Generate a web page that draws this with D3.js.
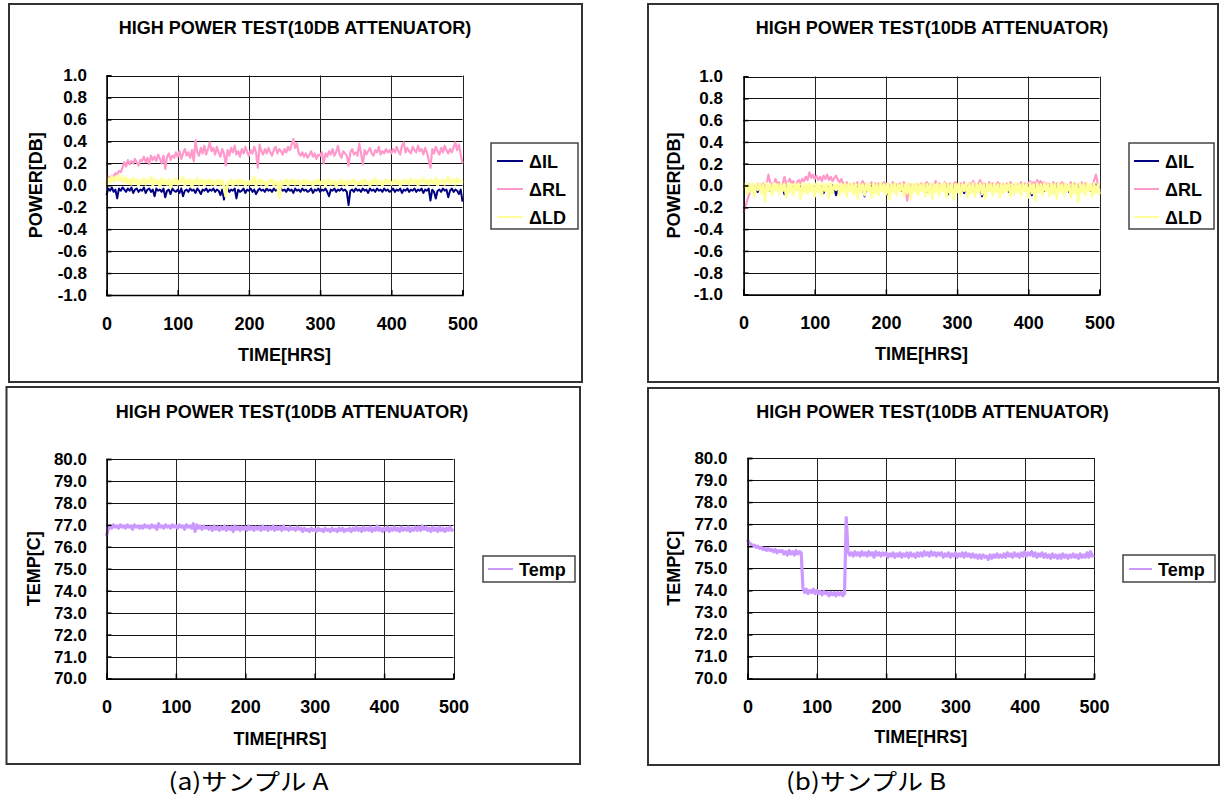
<!DOCTYPE html>
<html><head><meta charset="utf-8">
<script src="https://cdn.jsdelivr.net/npm/d3@7"></script>
<style>
body{margin:0;background:#fff}
svg{display:block}
text{font-family:"Liberation Sans",Arial,sans-serif;font-weight:bold;fill:#000}
</style>
</head><body>
<svg id="c" width="1223" height="800"></svg>
<script>
// ---------- texts / categories ----------
const chartTitle = "HIGH POWER TEST(10DB ATTENUATOR)";
const xAxisTitle = "TIME[HRS]";
const powerAxisTitle = "POWER[DB]";
const tempAxisTitle = "TEMP[C]";
const powerSeriesNames = ["\u0394IL", "\u0394RL", "\u0394LD"];
const tempSeriesName = "Temp";
const captions = ["(a)\u30b5\u30f3\u30d7\u30eb A", "(b)\u30b5\u30f3\u30d7\u30eb B"];
const timeTicks = [0, 100, 200, 300, 400, 500];
const powerTicks = [1.0, 0.8, 0.6, 0.4, 0.2, 0.0, -0.2, -0.4, -0.6, -0.8, -1.0];
const tempTicks = [80, 79, 78, 77, 76, 75, 74, 73, 72, 71, 70];
const sampleStepHrs = 2.5; // one reading every 2.5 h, 0..500 h

// ---------- sample A : power deltas [dB] ----------
const ilA = [
-0.09,-0.03,-0.05,-0.02,-0.06,-0.04,-0.12,-0.03,-0.05,-0.02,-0.04,-0.06,-0.03,-0.05,-0.02,-0.07,-0.04,-0.03,-0.06,-0.04,
-0.05,-0.02,-0.07,-0.04,-0.03,-0.06,-0.04,-0.10,-0.03,-0.05,-0.04,-0.06,-0.03,-0.11,-0.05,-0.04,-0.08,-0.03,-0.05,-0.06,
-0.04,-0.07,-0.03,-0.10,-0.05,-0.04,-0.06,-0.03,-0.05,-0.04,-0.07,-0.03,-0.05,-0.08,-0.04,-0.05,-0.03,-0.06,-0.04,-0.05,
-0.03,-0.06,-0.04,-0.05,-0.09,-0.04,-0.13,-0.05,-0.03,-0.06,-0.04,-0.05,-0.03,-0.12,-0.04,-0.06,-0.05,-0.03,-0.07,-0.04,
-0.05,-0.03,-0.06,-0.04,-0.08,-0.05,-0.03,-0.05,-0.04,-0.06,-0.03,-0.05,-0.04,-0.06,-0.03,-0.05,-0.04,-0.07,-0.03,-0.05,
-0.04,-0.06,-0.03,-0.05,-0.04,-0.07,-0.03,-0.05,-0.04,-0.06,-0.03,-0.05,-0.04,-0.06,-0.05,-0.03,-0.07,-0.04,-0.05,-0.03,
-0.06,-0.04,-0.05,-0.03,-0.06,-0.10,-0.04,-0.05,-0.03,-0.06,-0.04,-0.05,-0.03,-0.05,-0.04,-0.06,-0.18,-0.05,-0.04,-0.06,
-0.03,-0.05,-0.04,-0.06,-0.03,-0.05,-0.04,-0.07,-0.03,-0.05,-0.04,-0.06,-0.03,-0.05,-0.04,-0.06,-0.03,-0.05,-0.04,-0.06,
-0.05,-0.03,-0.06,-0.04,-0.05,-0.03,-0.07,-0.04,-0.05,-0.03,-0.06,-0.04,-0.05,-0.03,-0.06,-0.04,-0.05,-0.03,-0.07,-0.04,
-0.05,-0.03,-0.14,-0.04,-0.06,-0.12,-0.05,-0.04,-0.06,-0.03,-0.05,-0.04,-0.11,-0.05,-0.03,-0.06,-0.04,-0.05,-0.08,-0.04,
-0.15];
const rlA = [
0.02,0.08,0.06,0.09,0.08,0.11,0.10,0.13,0.12,0.16,0.21,0.17,0.23,0.19,0.22,0.20,0.24,0.21,0.18,0.23,
0.22,0.26,0.21,0.25,0.19,0.27,0.23,0.26,0.22,0.28,0.24,0.20,0.27,0.15,0.26,0.29,0.23,0.27,0.25,0.30,
0.26,0.31,0.24,0.29,0.33,0.27,0.30,0.25,0.32,0.22,0.41,0.30,0.27,0.34,0.29,0.36,0.28,0.33,0.39,0.31,
0.34,0.28,0.35,0.30,0.26,0.33,0.29,0.18,0.32,0.27,0.34,0.30,0.36,0.28,0.31,0.26,0.33,0.29,0.35,0.30,
0.27,0.32,0.29,0.35,0.30,0.16,0.37,0.31,0.28,0.33,0.29,0.34,0.30,0.27,0.32,0.35,0.29,0.33,0.31,0.28,
0.33,0.30,0.35,0.32,0.37,0.42,0.34,0.38,0.29,0.27,0.30,0.26,0.29,0.25,0.28,0.31,0.26,0.29,0.24,0.28,
0.27,0.30,0.20,0.29,0.26,0.31,0.28,0.33,0.27,0.30,0.36,0.28,0.25,0.31,0.29,0.27,0.18,0.30,0.33,0.28,
0.30,0.27,0.38,0.29,0.19,0.32,0.28,0.31,0.34,0.29,0.27,0.32,0.30,0.35,0.28,0.31,0.29,0.33,0.30,0.32,
0.29,0.33,0.30,0.35,0.31,0.28,0.36,0.39,0.30,0.34,0.31,0.29,0.35,0.32,0.30,0.36,0.31,0.33,0.28,0.34,
0.30,0.23,0.16,0.33,0.29,0.35,0.31,0.28,0.34,0.30,0.36,0.32,0.29,0.33,0.30,0.35,0.39,0.32,0.37,0.28,
0.20];
const ldA = [
0.00,0.06,0.03,0.08,0.04,0.07,0.05,0.09,0.04,0.06,0.03,0.07,0.02,0.05,0.01,0.06,0.03,0.05,0.00,0.04,
0.02,0.06,0.01,0.04,0.03,0.07,0.00,0.05,0.02,0.04,-0.01,0.06,0.02,0.04,0.01,0.05,-0.02,0.04,0.02,0.06,
0.01,0.04,0.03,0.07,0.00,0.04,0.02,0.05,-0.01,0.04,0.02,0.06,0.01,0.03,0.05,0.00,0.04,0.02,0.05,0.01,
0.04,0.00,0.03,0.05,0.01,0.04,-0.02,-0.10,0.03,0.02,0.05,0.00,0.03,0.04,0.01,0.05,0.02,0.04,0.00,0.03,
0.01,0.04,0.02,0.07,0.00,0.03,0.05,0.01,0.04,0.02,-0.01,0.04,0.03,0.05,0.00,0.03,0.02,-0.11,0.04,0.01,
0.03,0.05,0.00,0.04,0.02,0.05,0.01,0.03,0.04,0.00,0.03,0.05,0.01,0.04,0.02,0.03,0.00,0.04,0.02,0.05,
0.01,0.03,0.04,0.00,0.03,0.05,0.01,0.02,0.04,-0.01,0.03,0.02,0.05,0.01,0.03,0.00,0.04,0.02,0.03,0.05,
0.00,0.03,0.02,0.04,0.01,0.05,0.02,0.03,0.00,0.04,0.02,0.06,0.01,0.03,0.04,0.00,0.03,0.05,0.02,0.04,
0.01,0.03,0.05,0.02,0.04,0.00,0.03,0.05,0.02,0.04,0.01,0.06,0.03,0.02,0.05,0.00,0.04,0.03,0.06,0.02,
0.04,0.01,0.05,0.03,0.02,0.06,0.00,0.04,0.03,0.05,0.01,0.04,0.07,0.02,0.03,0.05,0.01,0.06,0.03,0.04,
0.02];

// ---------- sample B : power deltas [dB] ----------
const ilB = [
-0.02,-0.01,-0.03,0.01,-0.02,-0.04,-0.01,-0.02,-0.06,-0.01,-0.02,0.00,-0.03,-0.02,-0.01,-0.05,-0.02,-0.01,-0.03,-0.02,
-0.01,-0.03,-0.02,-0.08,-0.01,-0.02,-0.03,0.00,-0.02,-0.01,-0.04,-0.02,-0.01,-0.03,-0.02,-0.01,-0.06,-0.02,-0.01,-0.03,
-0.02,0.01,-0.03,-0.02,-0.01,-0.07,-0.02,-0.01,-0.03,-0.02,0.00,-0.02,-0.09,-0.01,-0.03,-0.02,-0.01,-0.04,-0.02,-0.01,
-0.03,-0.02,-0.01,-0.05,-0.02,-0.01,-0.03,-0.02,-0.10,-0.01,-0.02,-0.03,0.00,-0.02,-0.01,-0.04,-0.02,-0.01,-0.03,-0.02,
-0.01,-0.08,-0.02,-0.01,-0.03,-0.02,0.00,-0.02,-0.01,-0.05,-0.02,-0.03,-0.01,-0.02,-0.07,-0.01,-0.03,-0.02,-0.01,-0.02,
-0.03,-0.01,-0.02,-0.06,-0.01,-0.02,-0.03,0.00,-0.02,-0.01,-0.04,-0.02,-0.01,-0.03,-0.02,-0.08,-0.01,-0.02,-0.03,-0.01,
-0.02,-0.01,-0.03,-0.02,-0.07,-0.01,-0.02,-0.03,0.00,-0.02,-0.01,-0.04,-0.02,-0.01,-0.10,-0.02,-0.01,-0.03,-0.02,-0.01,
-0.03,-0.02,-0.01,-0.05,-0.02,-0.01,-0.03,-0.02,-0.01,-0.06,-0.02,-0.03,0.00,-0.02,-0.01,-0.04,-0.02,-0.01,-0.03,-0.02,
-0.01,-0.02,-0.09,-0.01,-0.03,-0.02,0.00,-0.02,-0.01,-0.05,-0.02,-0.03,-0.01,-0.02,-0.07,-0.01,-0.03,-0.02,-0.01,-0.02,
-0.03,-0.01,-0.02,-0.06,-0.01,-0.02,-0.03,0.00,-0.02,-0.01,-0.04,-0.02,-0.01,-0.03,-0.02,-0.05,-0.01,-0.02,0.01,-0.02,
-0.03];
const rlB = [
-0.25,-0.20,-0.14,-0.09,-0.05,-0.03,-0.01,-0.02,0.01,-0.01,0.00,0.02,-0.01,0.01,0.10,0.03,0.00,0.02,0.06,0.01,
0.03,0.00,0.02,0.08,0.01,0.03,0.06,0.02,0.04,0.01,0.03,0.05,0.02,0.06,0.04,0.08,0.05,0.12,0.07,0.10,
0.06,0.09,0.05,0.08,0.04,0.09,0.06,0.10,0.05,0.08,0.04,0.07,0.09,0.05,0.03,0.06,0.02,0.01,0.03,0.00,
0.01,-0.01,0.02,0.00,0.03,-0.01,0.01,0.04,0.00,0.02,-0.02,0.01,0.03,-0.01,0.02,0.00,0.02,-0.01,0.01,0.03,
0.00,0.02,-0.01,0.01,0.03,-0.02,0.01,0.00,0.02,-0.01,0.03,0.01,-0.14,0.02,0.00,0.01,-0.02,0.02,0.00,0.01,
0.02,-0.01,0.01,0.03,0.00,0.02,-0.01,0.01,0.04,0.00,0.02,0.01,-0.02,0.03,0.01,0.00,0.02,-0.01,0.01,0.03,
0.01,-0.01,0.02,0.00,0.03,0.01,-0.02,0.02,0.00,0.04,0.01,-0.01,0.02,0.05,0.00,0.02,0.01,-0.01,0.03,0.00,
0.02,-0.01,0.01,0.03,0.00,0.02,0.01,-0.01,0.02,0.00,0.03,0.01,-0.02,0.02,0.00,0.01,0.03,0.00,0.02,0.01,
0.02,0.04,0.01,0.03,0.00,0.05,0.02,0.04,0.01,0.03,0.00,0.02,0.01,-0.01,0.03,0.00,0.02,-0.02,0.01,0.03,
0.00,0.02,-0.01,0.01,0.03,0.00,0.02,-0.02,0.01,0.00,0.03,-0.01,0.02,0.00,-0.03,0.01,-0.02,0.05,0.10,0.02,
-0.05];
const ldB = [
-0.02,0.02,-0.08,0.01,-0.06,0.02,-0.10,0.01,-0.04,0.02,-0.07,0.01,-0.15,0.02,-0.05,0.01,-0.09,0.02,-0.04,0.01,
-0.08,0.02,-0.05,0.01,-0.11,0.02,-0.06,0.01,-0.09,0.02,-0.04,0.01,-0.12,0.02,-0.06,0.01,-0.08,0.02,-0.05,0.01,
-0.10,0.02,-0.06,0.01,-0.09,0.02,-0.05,0.01,-0.11,0.02,-0.07,0.01,-0.04,0.02,-0.09,0.01,-0.06,0.02,-0.10,0.01,
-0.05,0.02,-0.08,0.01,-0.12,0.02,-0.06,0.01,-0.09,0.02,-0.05,0.01,-0.11,0.02,-0.07,0.01,-0.09,0.02,-0.05,0.01,
-0.08,0.02,-0.13,0.01,-0.06,0.02,-0.09,0.01,-0.05,0.02,-0.10,0.01,-0.07,0.02,-0.12,0.01,-0.06,0.02,-0.09,0.01,
-0.05,0.02,-0.10,0.01,-0.07,0.02,-0.12,0.01,-0.06,0.02,-0.09,0.01,-0.05,0.02,-0.11,0.01,-0.07,0.02,-0.13,0.01,
-0.06,0.02,-0.09,0.01,-0.05,0.02,-0.11,0.01,-0.07,0.02,-0.10,0.01,-0.06,0.02,-0.08,0.01,-0.12,0.02,-0.05,0.01,
-0.09,0.02,-0.06,0.01,-0.11,0.02,-0.07,0.01,-0.05,0.02,-0.10,0.01,-0.08,0.02,-0.06,0.01,-0.09,0.02,-0.05,0.01,
-0.11,0.02,-0.07,0.01,-0.14,0.02,-0.06,0.01,-0.09,0.02,-0.05,0.01,-0.10,0.02,-0.07,0.01,-0.12,0.02,-0.06,0.01,
-0.09,0.02,-0.05,0.01,-0.11,0.02,-0.07,0.01,-0.15,0.02,-0.06,0.01,-0.09,0.02,-0.05,0.01,-0.10,0.02,-0.07,0.01,
-0.08];

// ---------- temperatures [C] ----------
const tempA = [
76.5,76.8,76.95,76.85,77.0,76.9,76.95,76.85,77.0,76.9,76.95,76.85,77.0,76.9,76.95,76.8,77.0,76.9,76.95,76.85,
76.95,76.85,77.0,76.9,76.95,76.85,77.0,76.9,76.95,76.8,77.05,76.9,76.95,76.85,77.0,76.9,76.95,76.85,77.0,76.9,
76.95,76.85,77.0,76.9,76.95,76.8,77.0,76.9,76.95,76.85,77.05,76.7,77.0,76.85,76.95,76.8,76.95,76.85,76.9,76.8,
76.9,76.75,76.95,76.8,76.9,76.75,76.9,76.8,76.95,76.75,76.9,76.8,76.9,76.7,76.95,76.8,76.9,76.75,76.9,76.8,
76.9,76.75,76.95,76.8,76.9,76.75,76.9,76.8,76.9,76.75,76.95,76.8,76.9,76.75,76.9,76.8,76.95,76.75,76.9,76.8,
76.9,76.75,76.95,76.8,76.85,76.75,76.9,76.8,76.85,76.75,76.9,76.8,76.85,76.7,76.85,76.75,76.8,76.7,76.85,76.75,
76.8,76.7,76.85,76.75,76.8,76.7,76.85,76.75,76.8,76.7,76.85,76.75,76.8,76.7,76.85,76.75,76.85,76.7,76.8,76.75,
76.85,76.7,76.85,76.75,76.9,76.75,76.85,76.7,76.9,76.75,76.85,76.75,76.9,76.7,76.85,76.75,76.95,76.75,76.85,76.7,
76.85,76.75,76.9,76.7,76.85,76.75,76.9,76.75,76.85,76.7,76.9,76.75,76.85,76.75,76.9,76.7,76.85,76.75,76.9,76.75,
76.9,76.75,76.95,76.8,76.9,76.75,76.85,76.7,76.9,76.75,76.85,76.7,76.9,76.75,76.85,76.7,76.85,76.75,76.9,76.75,
76.8];
const tempB = [
76.3,76.15,76.1,76.0,76.05,75.95,76.0,75.9,75.95,75.85,75.9,75.8,75.9,75.8,75.85,75.75,75.85,75.7,75.8,75.75,
75.8,75.65,75.75,75.6,75.8,75.65,75.75,75.6,75.8,75.65,75.75,75.7,74.1,73.9,74.05,73.85,74.0,73.9,74.05,73.85,
74.0,73.85,73.95,73.8,73.95,73.85,73.9,73.75,73.9,73.8,73.9,73.75,73.9,73.8,73.9,73.75,73.85,77.3,75.75,75.6,
75.7,75.55,75.75,75.6,75.7,75.55,75.75,75.6,75.7,75.55,75.75,75.6,75.7,75.5,75.75,75.6,75.7,75.55,75.7,75.6,
75.7,75.5,75.65,75.55,75.7,75.5,75.65,75.55,75.7,75.5,75.65,75.55,75.7,75.5,75.7,75.55,75.65,75.5,75.7,75.55,
75.7,75.55,75.75,75.6,75.7,75.55,75.75,75.6,75.7,75.55,75.7,75.6,75.7,75.5,75.65,75.55,75.7,75.5,75.65,75.55,
75.7,75.5,75.65,75.55,75.7,75.5,75.7,75.55,75.65,75.5,75.65,75.5,75.6,75.45,75.6,75.45,75.6,75.5,75.55,75.4,
75.6,75.45,75.6,75.5,75.65,75.5,75.6,75.5,75.65,75.5,75.7,75.55,75.65,75.5,75.7,75.55,75.65,75.5,75.7,75.55,
75.75,75.55,75.7,75.6,75.75,75.55,75.7,75.5,75.65,75.55,75.7,75.5,75.65,75.5,75.6,75.45,75.65,75.5,75.6,75.45,
75.6,75.45,75.65,75.5,75.6,75.45,75.6,75.5,75.65,75.5,75.6,75.45,75.65,75.5,75.6,75.5,75.7,75.5,75.75,75.55,
75.6];

// ---------- styles ----------
const colIL = "#000080", colRL = "#ff99cc", colLD = "#ffff99", colTemp = "#cc99ff";

const svg = d3.select("#c");
const fmt1 = d => d3.format(".1f")(d).replace("\u2212", "-");

function drawPanel(p) {
  const g = svg.append("g");
  g.append("rect").attr("x", p.box[0]).attr("y", p.box[1])
    .attr("width", p.box[2] - p.box[0]).attr("height", p.box[3] - p.box[1])
    .attr("fill", "#fff").attr("stroke", "#333").attr("stroke-width", 2);

  const x = d3.scaleLinear().domain([0, 500]).range([p.plot[0], p.plot[2]]);
  const y = d3.scaleLinear().domain(p.yDomain).range([p.plot[3], p.plot[1]]);

  g.append("g").selectAll("line").data(p.yTicks).join("line")
    .attr("x1", p.plot[0]).attr("x2", p.plot[2])
    .attr("y1", d => Math.round(y(d)) + 0.5).attr("y2", d => Math.round(y(d)) + 0.5)
    .attr("stroke", "#111").attr("stroke-width", 1);
  g.append("g").selectAll("line").data(timeTicks).join("line")
    .attr("y1", p.plot[1]).attr("y2", p.plot[3])
    .attr("x1", d => Math.round(x(d)) + 0.5).attr("x2", d => Math.round(x(d)) + 0.5)
    .attr("stroke", "#222").attr("stroke-width", 1);

  const line = d3.line().x((d, i) => x(i * sampleStepHrs)).y(d => y(d));
  p.series.forEach(s => {
    g.append("path").datum(s.values).attr("d", line)
      .attr("fill", "none").attr("stroke", s.color).attr("stroke-width", s.width)
      .attr("stroke-linejoin", "round");
  });

  const ya = g.append("g").attr("transform", `translate(${p.plot[0]},0)`)
    .call(d3.axisLeft(y).tickValues(p.yTicks).tickFormat(p.yFmt).tickSize(-5).tickPadding(p.yPad));
  ya.select(".domain").attr("stroke", "#000").attr("stroke-width", 1.5);
  ya.selectAll(".tick line").attr("stroke", "#000").attr("stroke-width", 1.5);
  ya.selectAll("text").style("font-size", "17px").style("font-family", "'Liberation Sans',Arial,sans-serif").style("font-weight", "bold");

  const xa = g.append("g").attr("transform", `translate(0,${p.plot[3]})`)
    .call(d3.axisBottom(x).tickValues(timeTicks).tickFormat(d3.format("d")).tickSize(-5).tickPadding(22));
  xa.select(".domain").attr("stroke", "#000").attr("stroke-width", 1.5);
  xa.selectAll(".tick line").attr("stroke", "#000").attr("stroke-width", 1.5);
  xa.selectAll("text").style("font-size", "18px").style("font-family", "'Liberation Sans',Arial,sans-serif").style("font-weight", "bold");

  g.append("text").attr("x", p.titleXY[0]).attr("y", p.titleXY[1] + 6.5)
    .attr("text-anchor", "middle").style("font-size", "18px").text(chartTitle);
  const pcx = (p.plot[0] + p.plot[2]) / 2, pcy = (p.plot[1] + p.plot[3]) / 2;
  g.append("text").attr("x", pcx).attr("y", p.xTitleY + 6.5)
    .attr("text-anchor", "middle").style("font-size", "18px").text(xAxisTitle);
  g.append("text").attr("transform", `translate(${p.yTitleX + 6.5},${pcy}) rotate(-90)`)
    .attr("text-anchor", "middle").style("font-size", "18px").text(p.yTitle);

  const L = p.legend;
  g.append("rect").attr("x", L.box[0]).attr("y", L.box[1])
    .attr("width", L.box[2] - L.box[0]).attr("height", L.box[3] - L.box[1])
    .attr("fill", "#fff").attr("stroke", "#444").attr("stroke-width", 1.5);
  p.series.forEach((s, i) => {
    const ry = L.rows[i];
    g.append("line").attr("x1", L.line[0]).attr("x2", L.line[1])
      .attr("y1", ry).attr("y2", ry).attr("stroke", s.color).attr("stroke-width", 2);
    g.append("text").attr("x", L.textX).attr("y", ry + 6.5)
      .style("font-size", "18px").text(s.name);
  });
}

drawPanel({
  box: [9, 4, 582, 382], plot: [106.5, 75.5, 462.5, 295],
  yDomain: [-1, 1], yTicks: powerTicks, yFmt: fmt1, yPad: 19.5, yTitle: powerAxisTitle,
  titleXY: [295, 27.5], xTitleY: 354, yTitleX: 35,
  series: [
    {name: powerSeriesNames[0], values: ilA, color: colIL, width: 2},
    {name: powerSeriesNames[1], values: rlA, color: colRL, width: 2.2},
    {name: powerSeriesNames[2], values: ldA, color: colLD, width: 3}
  ],
  legend: {box: [491, 143, 578, 229], line: [497, 523], textX: 529, rows: [161, 189, 217]}
});
drawPanel({
  box: [648, 4, 1218, 382], plot: [743.5, 76.5, 1099.5, 294.5],
  yDomain: [-1, 1], yTicks: powerTicks, yFmt: fmt1, yPad: 20.5, yTitle: powerAxisTitle,
  titleXY: [932, 27], xTitleY: 353, yTitleX: 673,
  series: [
    {name: powerSeriesNames[0], values: ilB, color: colIL, width: 2},
    {name: powerSeriesNames[1], values: rlB, color: colRL, width: 2.2},
    {name: powerSeriesNames[2], values: ldB, color: colLD, width: 2.6}
  ],
  legend: {box: [1129, 143, 1214, 229], line: [1134, 1159], textX: 1165, rows: [161, 189, 217]}
});
drawPanel({
  box: [6.5, 387, 580, 764], plot: [106.5, 459, 453.5, 678.5],
  yDomain: [70, 80], yTicks: tempTicks, yFmt: fmt1, yPad: 19.5, yTitle: tempAxisTitle,
  titleXY: [292, 411], xTitleY: 738, yTitleX: 33,
  series: [{name: tempSeriesName, values: tempA, color: colTemp, width: 3.2}],
  legend: {box: [483, 556, 575, 582], line: [488, 513], textX: 519, rows: [569]}
});
drawPanel({
  box: [648, 388, 1219, 765], plot: [747.5, 458, 1094, 678.5],
  yDomain: [70, 80], yTicks: tempTicks, yFmt: fmt1, yPad: 20, yTitle: tempAxisTitle,
  titleXY: [932.5, 411], xTitleY: 736, yTitleX: 673,
  series: [{name: tempSeriesName, values: tempB, color: colTemp, width: 3.2}],
  legend: {box: [1123, 555, 1215, 582], line: [1129, 1152], textX: 1158, rows: [569]}
});

[[168.5, captions[0]], [786, captions[1]]].forEach(([cx, t]) => {
  svg.append("text").attr("x", cx).attr("y", 790)
    .attr("textLength", 160).attr("lengthAdjust", "spacingAndGlyphs")
    .style("font-family", "'Noto Sans CJK JP',sans-serif").style("font-weight", "normal")
    .style("font-size", "23px").text(t);
});
</script>
</body></html>
